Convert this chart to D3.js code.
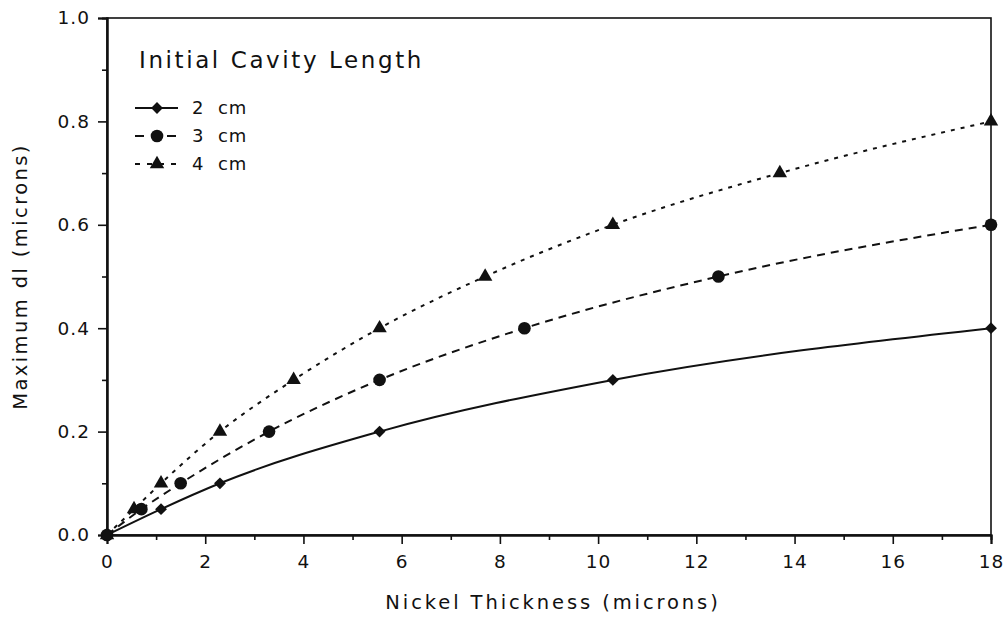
<!DOCTYPE html>
<html>
<head>
<meta charset="utf-8">
<script src="https://cdn.jsdelivr.net/npm/d3@7"></script>
<style>
  html, body { margin: 0; padding: 0; background: #fff; }
  svg { display: block; }
  text { font-family: "DejaVu Sans", "Liberation Sans", sans-serif; fill: #111; }
</style>
</head>
<body>
<svg id="chart" width="1004" height="619"></svg>
<script>
// ---- data ----
const seriesNames = ["2 cm", "3 cm", "4 cm"];
const x2cm = [0, 1.1, 2.3, 5.55, 10.3, 18.0];
const y2cm = [0, 0.05, 0.1, 0.2, 0.3, 0.4];
const x3cm = [0, 0.7, 1.5, 3.3, 5.55, 8.5, 12.45, 18.0];
const y3cm = [0, 0.05, 0.1, 0.2, 0.3, 0.4, 0.5, 0.6];
const x4cm = [0, 0.55, 1.1, 2.3, 3.8, 5.55, 7.7, 10.3, 13.7, 18.0];
const y4cm = [0, 0.05, 0.1, 0.2, 0.3, 0.4, 0.5, 0.6, 0.7, 0.8];
const xTicks = [0, 2, 4, 6, 8, 10, 12, 14, 16, 18];
const xMinorTicks = [1, 3, 5, 7, 9, 11, 13, 15, 17];
const yTicks = [0.0, 0.2, 0.4, 0.6, 0.8, 1.0];
const yMinorTicks = [0.1, 0.3, 0.5, 0.7, 0.9];
const xTitle = "Nickel Thickness (microns)";
const yTitle = "Maximum dl (microns)";
const legendTitle = "Initial Cavity Length";

(function () {
const svg = d3.select("#chart");
const mLeft = 107, mRight = 991, mTop = 18, mBottom = 535;
const x = d3.scaleLinear().domain([0, 18]).range([mLeft, mRight]);
const y = d3.scaleLinear().domain([0, 1]).range([mBottom, mTop]);

const ink = "#111";

// frame
svg.append("rect")
  .attr("x", mLeft).attr("y", mTop)
  .attr("width", mRight - mLeft).attr("height", mBottom - mTop)
  .attr("fill", "none").attr("stroke", ink).attr("stroke-width", 1.6);

// axes
const xAxis = svg.append("g").attr("transform", `translate(0,${mBottom})`)
  .call(d3.axisBottom(x).tickValues(xTicks).tickFormat(d3.format("d")).tickSize(9).tickPadding(11));
const xMinor = svg.append("g").attr("transform", `translate(0,${mBottom})`)
  .call(d3.axisBottom(x).tickValues(xMinorTicks).tickFormat("").tickSize(5));
const yAxis = svg.append("g").attr("transform", `translate(${mLeft},0)`)
  .call(d3.axisLeft(y).tickValues(yTicks).tickFormat(d3.format(".1f")).tickSize(9).tickPadding(8));
const yMinor = svg.append("g").attr("transform", `translate(${mLeft},0)`)
  .call(d3.axisLeft(y).tickValues(yMinorTicks).tickFormat("").tickSize(5));

[xAxis, xMinor, yAxis, yMinor].forEach(g => {
  g.select(".domain").attr("stroke", ink).attr("stroke-width", 2);
  g.selectAll(".tick line").attr("stroke", ink).attr("stroke-width", 1.6);
  g.selectAll(".tick text").attr("font-size", 18.5).attr("fill", ink)
    .attr("letter-spacing", 1)
    .attr("font-family", "DejaVu Sans, sans-serif");
});

// axis titles
svg.append("text").attr("x", (mLeft + mRight) / 2 + 4).attr("y", 609)
  .attr("text-anchor", "middle").attr("font-size", 19.5).attr("letter-spacing", 2.9)
  .text(xTitle);
svg.append("text")
  .attr("transform", `translate(27,${(mTop + mBottom) / 2}) rotate(-90)`)
  .attr("text-anchor", "middle").attr("font-size", 19.5).attr("letter-spacing", 2.4)
  .text(yTitle);

// series
const diamond = { draw(ctx, size) { const r = Math.sqrt(size) / 2 * Math.SQRT2; ctx.moveTo(0, -r); ctx.lineTo(r, 0); ctx.lineTo(0, r); ctx.lineTo(-r, 0); ctx.closePath(); } };
const series = [
  { name: seriesNames[0], xs: x2cm, ys: y2cm, dash: null, sym: diamond, size: 70 },
  { name: seriesNames[1], xs: x3cm, ys: y3cm, dash: "8,6", sym: d3.symbolCircle, size: 125 },
  { name: seriesNames[2], xs: x4cm, ys: y4cm, dash: "4,6", sym: d3.symbolTriangle, size: 90 }
];

const line = d3.line().x(d => x(d[0])).y(d => y(d[1])).curve(d3.curveMonotoneX);

series.forEach(s => {
  const pts = s.xs.map((v, i) => [v, s.ys[i]]);
  svg.append("path").datum(pts)
    .attr("d", line)
    .attr("fill", "none").attr("stroke", ink).attr("stroke-width", 2)
    .attr("stroke-dasharray", s.dash);
  svg.append("g").selectAll("path").data(pts).join("path")
    .attr("transform", d => `translate(${x(d[0])},${y(d[1])})`)
    .attr("d", d3.symbol().type(s.sym).size(s.size))
    .attr("fill", ink);
});

// legend
svg.append("text").attr("x", 139).attr("y", 68)
  .attr("font-size", 23).attr("letter-spacing", 2.6).text(legendTitle);
const legRows = [108, 136, 164];
series.forEach((s, i) => {
  const ly = legRows[i];
  svg.append("line").attr("x1", 135).attr("x2", 178).attr("y1", ly).attr("y2", ly)
    .attr("stroke", ink).attr("stroke-width", 2).attr("stroke-dasharray", s.dash ? (i === 1 ? "9,7" : "5,7") : null);
  svg.append("path").attr("transform", `translate(157,${ly})`)
    .attr("d", d3.symbol().type(s.sym).size(s.size)).attr("fill", ink);
  svg.append("text").attr("x", 192).attr("y", ly + 6).attr("font-size", 18)
    .attr("letter-spacing", 1).attr("xml:space", "preserve").style("white-space", "pre")
    .text(s.name.replace(" ", "  "));
});
})();
</script>
</body>
</html>
